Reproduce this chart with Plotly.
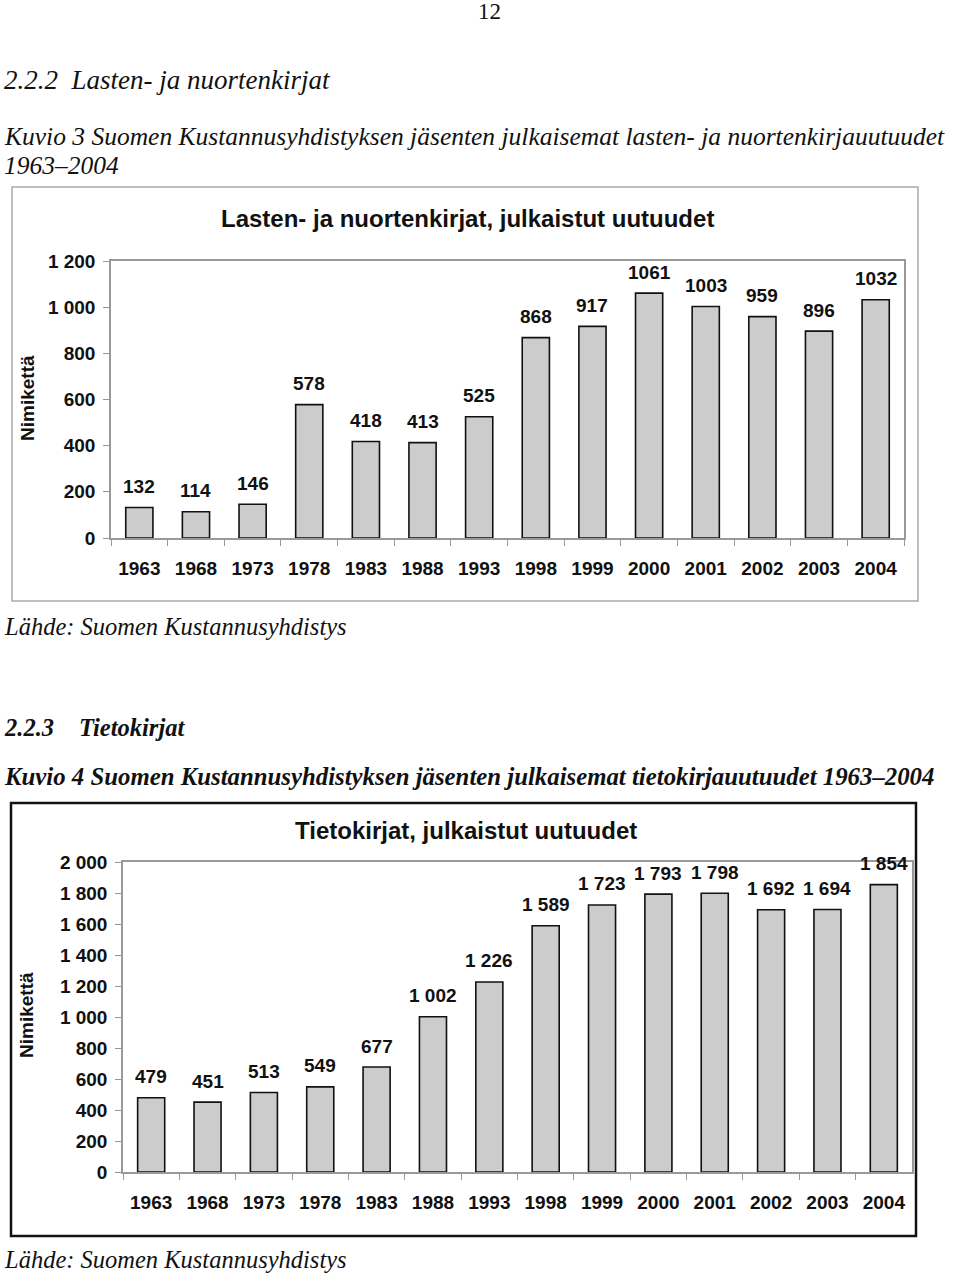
import plotly.graph_objects as go

years = ["1963", "1968", "1973", "1978", "1983", "1988", "1993", "1998",
         "1999", "2000", "2001", "2002", "2003", "2004"]
lasten = [132, 114, 146, 578, 418, 413, 525, 868, 917, 1061, 1003, 959, 896, 1032]
tieto = [479, 451, 513, 549, 677, 1002, 1226, 1589, 1723, 1793, 1798, 1692, 1694, 1854]

title1 = "Lasten- ja nuortenkirjat, julkaistut uutuudet"
title2 = "Tietokirjat, julkaistut uutuudet"
ylabel = "Nimikettä"

W, H = 960, 1275
def py(p):
    return 1 - p / H
def px(p):
    return p / W

fig = go.Figure()
bar_style = dict(marker=dict(color="#cccccc", line=dict(color="#111111", width=1.6)),
                 hoverinfo="skip", showlegend=False)
fig.add_trace(go.Bar(x=years, y=lasten, xaxis="x", yaxis="y", **bar_style))
fig.add_trace(go.Bar(x=years, y=tieto, xaxis="x2", yaxis="y2", **bar_style))

tickfont = dict(family="Liberation Sans, Arial", size=19, color="#111111", weight="bold")
axis_common = dict(showline=True, mirror=True, linecolor="#999999", linewidth=1.5,
                   ticks="outside", ticklen=6, tickcolor="#999999", tickwidth=1.2,
                   tickfont=tickfont, showgrid=False, zeroline=False, fixedrange=True,
                   automargin=False)
ncat = len(years)

fig.update_layout(
    width=W, height=H, margin=dict(l=0, r=0, t=0, b=0, autoexpand=False),
    paper_bgcolor="white", plot_bgcolor="white",
    bargap=0.52, separators=", ",
    font=dict(family="Liberation Sans, Arial", color="#111111"),
    xaxis=dict(domain=[px(111), px(904)], anchor="y", type="category",
               range=[-0.5, ncat - 0.5], tickangle=0,
               tickson="boundaries", ticklabelstandoff=12, **axis_common),
    yaxis=dict(domain=[py(538), py(261)], anchor="x", range=[0, 1200], dtick=200,
               tickformat=",d", ticklabelstandoff=4, **axis_common),
    xaxis2=dict(domain=[px(123), px(912)], anchor="y2", type="category",
                range=[-0.5, ncat - 0.5], tickangle=0,
                tickson="boundaries", ticklabelstandoff=12, **axis_common),
    yaxis2=dict(domain=[py(1172), py(862)], anchor="x2", range=[0, 2000], dtick=200,
                tickformat=",d", ticklabelstandoff=4, **axis_common),
)

anns = []
lab_font = dict(family="Liberation Sans, Arial", size=19, color="#111111")
for i, v in enumerate(lasten):
    anns.append(dict(x=i, y=v, xref="x", yref="y", text=f"<b>{v}</b>", showarrow=False,
                     yanchor="middle", yshift=21, font=lab_font))
for i, v in enumerate(tieto):
    t = f"{v:,}".replace(",", " ")
    anns.append(dict(x=i, y=v, xref="x2", yref="y2", text=f"<b>{t}</b>", showarrow=False,
                     yanchor="middle", yshift=21, font=lab_font))

title_font = dict(family="Liberation Sans, Arial", size=24, color="#111111")
anns.append(dict(x=px(467), y=py(218), xref="paper", yref="paper", text=f"<b>{title1}</b>",
                 showarrow=False, xanchor="center", yanchor="middle", font=title_font))
anns.append(dict(x=px(466), y=py(830), xref="paper", yref="paper", text=f"<b>{title2}</b>",
                 showarrow=False, xanchor="center", yanchor="middle", font=title_font))
for yc in (398, 1015):
    anns.append(dict(x=px(27), y=py(yc), xref="paper", yref="paper", text=f"<b>{ylabel}</b>",
                     textangle=-90, showarrow=False, xanchor="center", yanchor="middle",
                     font=dict(family="Liberation Sans, Arial", size=19, color="#111111")))

serif = "Liberation Serif, Times New Roman"
page_texts = [
    ("12", 489, 12, "center", "", 23),
    ("2.2.2  Lasten- ja nuortenkirjat", 2, 80, "left", "i", 27),
    ("Kuvio 3 Suomen Kustannusyhdistyksen jäsenten julkaisemat lasten- ja nuortenkirjauutuudet", 2, 137, "left", "i", 25.5),
    ("1963–2004", 2, 166, "left", "i", 25.5),
    ("Lähde: Suomen Kustannusyhdistys", 2, 627, "left", "i", 24.5),
    ("2.2.3", 2, 727, "left", "bi", 24.5),
    ("Tietokirjat", 77, 727, "left", "bi", 24.5),
    ("Kuvio 4 Suomen Kustannusyhdistyksen jäsenten julkaisemat tietokirjauutuudet 1963–2004", 2, 776, "left", "bi", 24.8),
    ("Lähde: Suomen Kustannusyhdistys", 2, 1259, "left", "i", 24.5),
]
for txt, x0, y0, anchor, sty, fs in page_texts:
    t = txt
    if "i" in sty:
        t = f"<i>{t}</i>"
    if "b" in sty:
        t = f"<b>{t}</b>"
    anns.append(dict(x=px(x0), y=py(y0), xref="paper", yref="paper", text=t, showarrow=False,
                     xanchor=anchor, yanchor="middle",
                     font=dict(family=serif, size=fs, color="#111111")))

fig.update_layout(annotations=anns)

fig.update_layout(shapes=[
    dict(type="rect", xref="paper", yref="paper", x0=px(12), x1=px(918), y0=py(601), y1=py(187),
         line=dict(color="#aaaaaa", width=1.5), layer="below"),
    dict(type="rect", xref="paper", yref="paper", x0=px(11), x1=px(916), y0=py(1236), y1=py(803),
         line=dict(color="#111111", width=2.5), layer="below"),
])

fig.write_html("out.html")
